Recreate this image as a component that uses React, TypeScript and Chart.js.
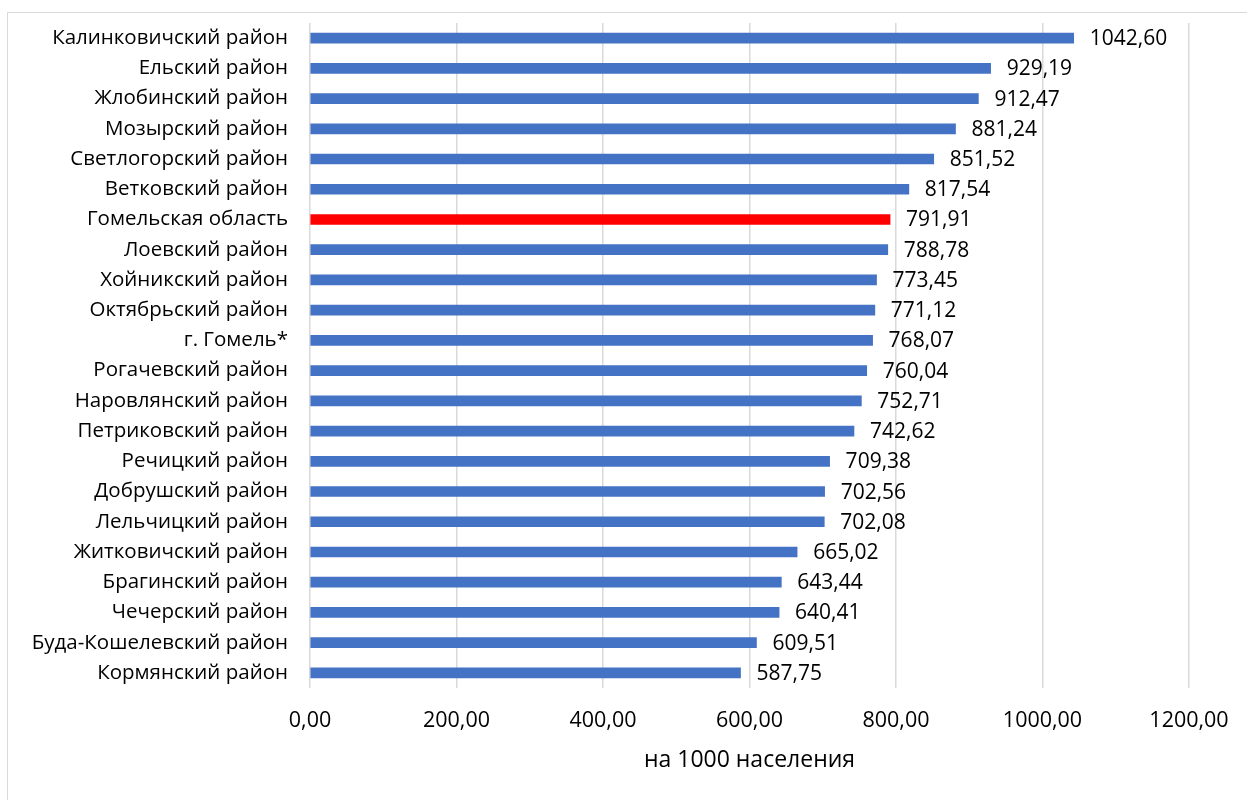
import React, { useEffect, useRef } from "react";
import { Chart, registerables } from "chart.js";

Chart.register(...registerables);

// Districts of Gomel region, top to bottom
const districts = [
  "Калинковичский район",
  "Ельский район",
  "Жлобинский район",
  "Мозырский район",
  "Светлогорский район",
  "Ветковский район",
  "Гомельская область",
  "Лоевский район",
  "Хойникский район",
  "Октябрьский район",
  "г. Гомель*",
  "Рогачевский район",
  "Наровлянский район",
  "Петриковский район",
  "Речицкий район",
  "Добрушский район",
  "Лельчицкий район",
  "Житковичский район",
  "Брагинский район",
  "Чечерский район",
  "Буда-Кошелевский район",
  "Кормянский район",
];

// Rate per 1000 population
const ratePer1000 = [
  1042.6, 929.19, 912.47, 881.24, 851.52, 817.54, 791.91, 788.78, 773.45,
  771.12, 768.07, 760.04, 752.71, 742.62, 709.38, 702.56, 702.08, 665.02,
  643.44, 640.41, 609.51, 587.75,
];

const regionTotalLabel = "Гомельская область";
const axisTitle = "на 1000 населения";
const axisMin = 0;
const axisMax = 1200;
const axisStep = 200;

const BLUE = "#4472C4";
const RED = "#FF0000";
const GRID = "#d9d9d9";
const FONT = "'Open Sans', 'Noto Sans', sans-serif";

const fmt = (v: number) => v.toFixed(2).replace(".", ",");

const frame = {
  id: "frame",
  beforeDraw(chart: any) {
    const { ctx } = chart;
    ctx.save();
    ctx.fillStyle = "#ffffff";
    ctx.fillRect(0, 0, chart.width, chart.height);
    ctx.strokeStyle = GRID;
    ctx.lineWidth = 1;
    ctx.beginPath();
    ctx.moveTo(7.5, chart.height);
    ctx.lineTo(7.5, 12.5);
    ctx.lineTo(chart.width, 12.5);
    ctx.stroke();
    ctx.restore();
  },
};

const valueLabels = {
  id: "valueLabels",
  afterDatasetsDraw(chart: any) {
    const { ctx } = chart;
    const meta = chart.getDatasetMeta(0);
    const data = chart.data.datasets[0].data as number[];
    ctx.save();
    ctx.font = `21px ${FONT}`;
    ctx.fillStyle = "#000000";
    ctx.textAlign = "left";
    ctx.textBaseline = "middle";
    meta.data.forEach((bar: any, i: number) => {
      ctx.fillText(fmt(data[i]), bar.x + 16, bar.y + 1);
    });
    ctx.restore();
  },
};

export default function App() {
  const ref = useRef<HTMLCanvasElement | null>(null);

  useEffect(() => {
    if (!ref.current) return;
    const chart = new Chart(ref.current, {
      type: "bar",
      data: {
        labels: districts,
        datasets: [
          {
            data: ratePer1000,
            backgroundColor: districts.map((d) => (d === regionTotalLabel ? RED : BLUE)),
            barThickness: 10,
          },
        ],
      },
      options: {
        indexAxis: "y",
        animation: false,
        responsive: false,
        devicePixelRatio: 1,
        layout: { padding: { left: 0, right: 58, top: 23, bottom: 0 } },
        plugins: {
          legend: { display: false },
          tooltip: { enabled: false },
        },
        scales: {
          y: {
            grid: { display: false, drawTicks: false },
            border: { display: false },
            ticks: {
              color: "#000000",
              padding: 22,
              autoSkip: false,
              font: { family: FONT, size: 20.5 },
            },
            afterFit(s: any) {
              s.width = 310;
              s.paddingTop = 0;
              s.paddingBottom = 0;
            },
          },
          x: {
            min: axisMin,
            max: axisMax,
            grid: { color: GRID, lineWidth: 1.5, drawTicks: false },
            border: { display: false },
            ticks: {
              stepSize: axisStep,
              color: "#000000",
              padding: 20,
              font: { family: FONT, size: 21.5 },
              callback: (v: any) => fmt(Number(v)),
            },
            title: {
              display: true,
              text: axisTitle,
              color: "#000000",
              font: { family: FONT, size: 23 },
              padding: { top: 0, bottom: 26 },
            },
            afterFit(s: any) {
              s.height = 112;
              s.paddingLeft = 0;
              s.paddingRight = 0;
            },
          },
        },
      },
      plugins: [frame, valueLabels],
    });
    return () => chart.destroy();
  }, []);

  return (
    <div style={{ position: "fixed", left: 0, top: 0, width: 1247, height: 800, background: "#fff" }}>
      <canvas ref={ref} width={1247} height={800} style={{ display: "block" }} />
    </div>
  );
}
